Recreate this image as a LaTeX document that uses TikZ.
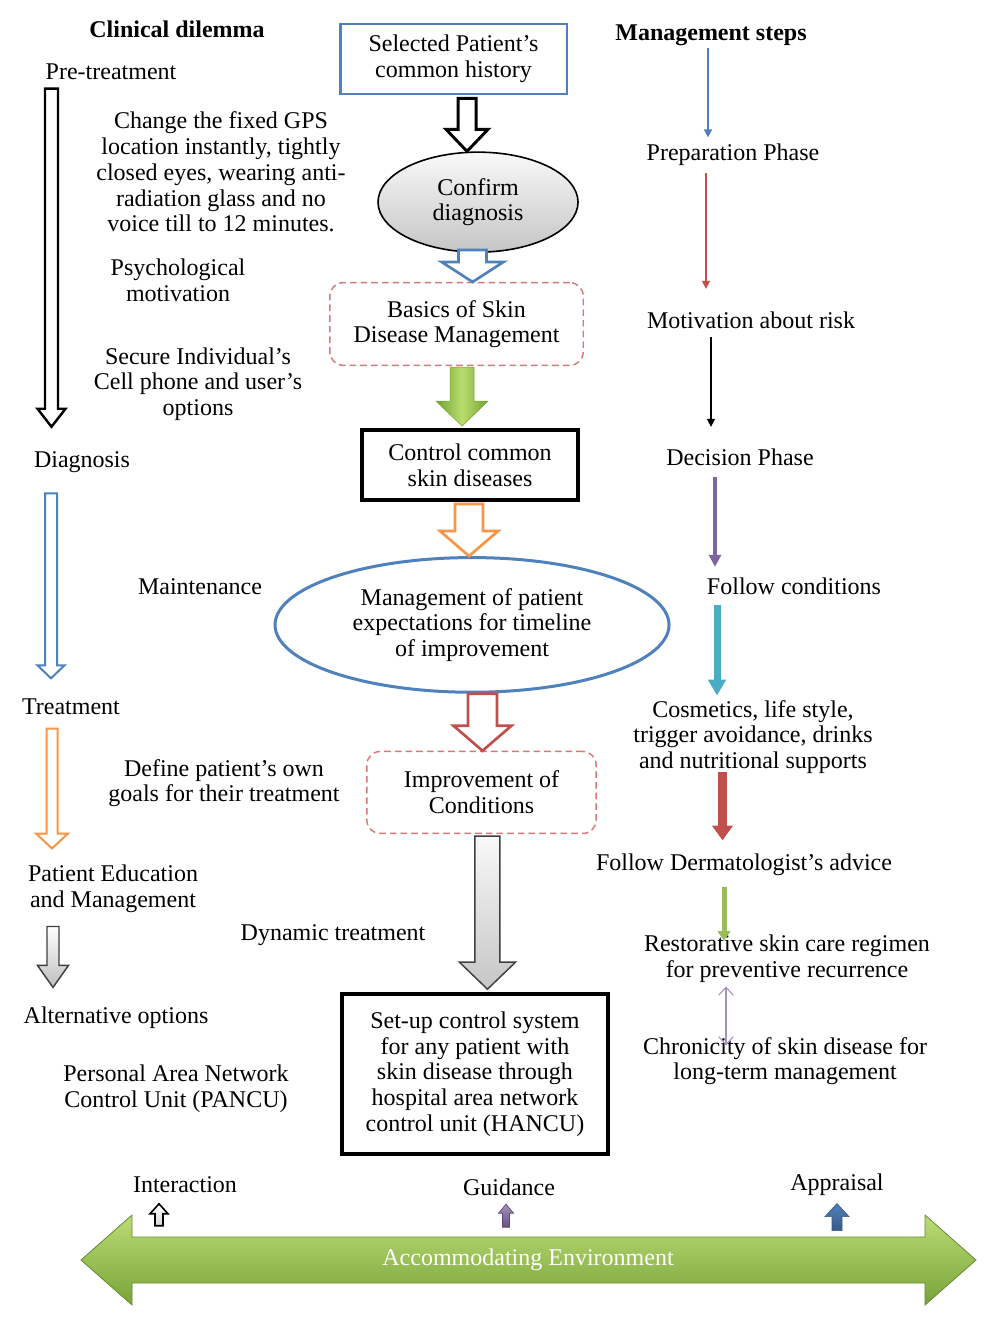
\documentclass[tikz,border=0pt]{standalone}
\usepackage{fontspec}
\setmainfont{Liberation Serif}
\usepackage{tikz}
\usetikzlibrary{arrows.meta,%
                shapes,positioning}
\usetikzlibrary{calc}

\definecolor{boxblue}{HTML}{4F81BD}
\definecolor{dashred}{HTML}{D7797B}
\definecolor{arrred}{HTML}{C0504D}
\definecolor{arrorange}{HTML}{F79646}
\definecolor{arrpurple}{HTML}{8064A2}
\definecolor{arrcyan}{HTML}{4BACC6}
\definecolor{arrgreen}{HTML}{9BBB59}
\definecolor{leafdark}{HTML}{72A332}
\definecolor{leaflight}{HTML}{B9DD6E}
\definecolor{envlight}{HTML}{BBDC76}
\definecolor{envdark}{HTML}{78A338}

% block arrow: [style]{shaft start}{tip}{shaft half width}{head half width}{head length}
\newcommand{\blockarrow}[6][]{%
  \draw[#1] let \p1=(#2), \p2=(#3) in
    ({\x2-#4*0.75},\y1) -- ({\x2-#4*0.75},{\y2+(#6)*0.75}) -- ({\x2-#5*0.75},{\y2+(#6)*0.75})
    -- (\x2,\y2) -- ({\x2+#5*0.75},{\y2+(#6)*0.75}) -- ({\x2+#4*0.75},{\y2+(#6)*0.75})
    -- ({\x2+#4*0.75},\y1) -- cycle;}

\begin{document}
\begin{tikzpicture}[x=0.75pt,y=-0.75pt,font=\fontsize{18}{19.3}\selectfont]
  \tikzset{TextStyle/.style = {align=center, text=black}}
  \tikzset{HeadStyle/.style = {align=center, text=black, font=\fontsize{18}{19.3}\selectfont\bfseries}}
  \tikzset{BoxStyle/.style = {draw=boxblue, line width=2pt, shape=rectangle, align=center, minimum width=170pt, minimum height=52.5pt}}
  \tikzset{ThickBoxStyle/.style = {draw=black, line width=3pt, shape=rectangle, align=center}}
  \tikzset{DashBoxStyle/.style = {draw=dashred, line width=1.1pt, dash pattern=on 5pt off 3pt, rounded corners=10pt, shape=rectangle, align=center}}
  \tikzset{OvalStyle/.style = {shape=ellipse, align=center}}
  \tikzset{ThinEdgeStyle/.style = {line width=1.1pt, -{Triangle[length=6pt,width=6pt]}}}
  \tikzset{HollowStyle/.style = {fill=white, line width=1.8pt, line join=miter}}

  \useasboundingbox (0,0) rectangle (996,1329);
  \fill[white] (0,0) rectangle (996,1329);

  % centre column
  \node(sel)[BoxStyle] at (453.5,59) {Selected Patient's\\common history};
  \node(cdx)[OvalStyle, draw=black, line width=1.2pt, top color=gray!5, bottom color=gray!45,
        minimum width=150pt, minimum height=75pt, below=42pt of sel, xshift=18.4pt] {Confirm\\diagnosis};
  \node(basics)[DashBoxStyle, minimum width=190pt, minimum height=62pt, below=21.75pt of cdx, xshift=-16.1pt] {Basics of Skin\\Disease Management};
  \node(ctrl)[ThickBoxStyle, minimum width=162pt, minimum height=52.5pt, below=46.5pt of basics, xshift=10.1pt] {Control common\\skin diseases};
  \node(mgmt)[OvalStyle, draw=boxblue, line width=2.25pt, minimum width=295.5pt, minimum height=101pt,
        below=40.5pt of ctrl, xshift=1.5pt] {Management of patient\\expectations for timeline\\of improvement};
  \node(impr)[DashBoxStyle, minimum width=172pt, minimum height=61.5pt, below=42.75pt of mgmt, xshift=7.1pt] {Improvement of\\Conditions};
  \node(hancu)[ThickBoxStyle, minimum width=199.5pt, minimum height=120pt, below=118.5pt of impr, xshift=-4.9pt]
        {Set-up control system\\for any patient with\\skin disease through\\hospital area network\\control unit (HANCU)};

  \blockarrow[HollowStyle, draw=black, line width=2.2pt]{$(sel.south)+(0,3)$}{$(cdx.north)+(-11,0)$}{9}{21}{22}
  \blockarrow[HollowStyle, draw=boxblue, line width=2pt]{$(cdx.south)+(0,-3)$}{$(basics.north)+(16,0)$}{14}{31}{20}
  \blockarrow[draw=leafdark, line width=0.4pt, left color=leafdark, right color=leafdark, middle color=leaflight]
        {$(basics.south)+(0,1)$}{$(ctrl.north)+(-8,-2)$}{12}{26}{25}
  \blockarrow[HollowStyle, draw=arrorange, line width=2pt]{$(ctrl.south)+(0,2)$}{$(mgmt.north)+(-3,0)$}{14}{29}{25}
  \blockarrow[HollowStyle, draw=arrred, line width=2pt]{$(mgmt.south)+(0,0)$}{$(impr.north)+(1,0)$}{14.5}{29}{25}
  \blockarrow[draw=black!75, line width=1.1pt, top color=gray!5, bottom color=gray!45]{$(impr.south)+(0,2)$}{$(hancu.north)+(12.5,-3)$}{12.5}{28}{27}

  % left column
  \node(cdil)[HeadStyle] at (177,29) {Clinical dilemma};
  \node(pre)[TextStyle] at (111,72) {Pre-treatment};
  \node(gps)[TextStyle] at (221,172) {Change the fixed GPS\\location instantly, tightly\\closed eyes, wearing anti-\\radiation glass and no\\voice till to 12 minutes.};
  \node(psy)[TextStyle] at (178,280) {Psychological\\motivation};
  \node(secure)[TextStyle] at (198,384) {Secure Individual's\\Cell phone and user's\\options};
  \node(diag)[TextStyle] at (82,462) {Diagnosis};
  \node(maint)[TextStyle] at (200,587) {Maintenance};
  \node(treat)[TextStyle] at (71,707) {Treatment};
  \node(goals)[TextStyle] at (224,783) {Define patient's own\\goals for their treatment};
  \node(pated)[TextStyle] at (113,889) {Patient Education\\and Management};
  \node(dyn)[TextStyle] at (333,935) {Dynamic treatment};
  \node(alt)[TextStyle] at (116,1018) {Alternative options};
  \node(pancu)[TextStyle] at (176,1089) {Personal Area Network\\Control Unit (PANCU)};

  \blockarrow[HollowStyle, draw=black]{$(pre.south)+(0,4)$}{$(diag.north)+(-30.5,-20)$}{6.5}{14}{18}
  \blockarrow[HollowStyle, draw=boxblue, line width=1.5pt]{$(diag.south)+(0,16)$}{$(treat.north)+(-20,-16)$}{6}{13.5}{13}
  \blockarrow[HollowStyle, draw=arrorange, line width=1.5pt]{$(treat.south)+(0,9)$}{$(pated.north)+(-61,-12)$}{5.5}{16}{15}
  \blockarrow[draw=black!75, line width=1.1pt, top color=white, bottom color=gray!50]{$(pated.south)+(0,9)$}{$(alt.north)+(-63,-15)$}{6}{15.5}{22}

  % right column
  \node(mst)[HeadStyle] at (711,35) {Management steps};
  \node(prep)[TextStyle] at (733,155) {Preparation Phase};
  \node(motiv)[TextStyle] at (751,320) {Motivation about risk};
  \node(dec)[TextStyle] at (740,457) {Decision Phase};
  \node(foll)[TextStyle] at (794,586) {Follow conditions};
  \node(cosm)[TextStyle] at (753,737) {Cosmetics, life style,\\trigger avoidance, drinks\\and nutritional supports};
  \node(derm)[TextStyle] at (744,865) {Follow Dermatologist's advice};
  \node(rest)[TextStyle] at (787,959) {Restorative skin care regimen\\for preventive recurrence};
  \node(chron)[TextStyle] at (785,1061) {Chronicity of skin disease for\\long-term management};

  \draw[ThinEdgeStyle, draw=boxblue] ($(mst.south)+(-3,-2)$) -- ($(prep.north)+(-25,-2)$);
  \draw[ThinEdgeStyle, draw=arrred] ($(prep.south)+(-27,2)$) -- ($(motiv.north)+(-45,-18)$);
  \draw[ThinEdgeStyle, draw=black] ($(motiv.south)+(-40,4)$) -- ($(dec.north)+(-29,-17)$);
  \draw[draw=arrpurple, line width=3pt, -{Triangle[length=9pt,width=9pt]}] ($(dec.south)+(-25,7)$) -- ($(foll.north)+(-79,-6)$);
  \draw[draw=arrcyan, line width=5.25pt, -{Triangle[length=12pt,width=13pt]}] ($(foll.south)+(-77,6)$) -- ($(cosm.north)+(-36,0)$);
  \draw[draw=arrred, line width=6.5pt, -{Triangle[length=11pt,width=15pt]}] ($(cosm.south)+(-30.5,-6.5)$) -- ($(derm.north)+(-21.5,-9)$);
  \draw[draw=arrgreen, line width=3.75pt, -{Triangle[length=7pt,width=9.5pt]}] ($(derm.south)+(-20,6)$) -- ($(rest.north)+(-63,10)$);
  \draw[draw=arrpurple!70, line width=0.8pt, {Straight Barb[length=6pt,width=11pt]}-{Straight Barb[length=6pt,width=11pt]}]
        ($(rest.south)+(-61,-1)$) -- ($(chron.north)+(-59,13)$);

  % bottom
  \draw[draw=envdark!85!black, line width=0.6pt, top color=envlight, bottom color=envdark]
    (81,1260) -- (132,1215) -- (132,1237) -- (925,1237) -- (925,1215) -- (976,1260)
    -- (925,1305) -- (925,1283) -- (132,1283) -- (132,1305) -- cycle;
  \node(env)[TextStyle, text=white] at (528,1260) {Accommodating Environment};

  \node(inter)[TextStyle] at (185,1185) {Interaction};
  \node(guid)[TextStyle] at (509,1187) {Guidance};
  \node(appr)[TextStyle] at (837,1185) {Appraisal};

  \blockarrow[draw=black, line width=1.2pt, top color=white, bottom color=gray!30]{$(inter.south)+(-26,28)$}{$(inter.south)+(-26,6)$}{4}{9}{-10}
  \blockarrow[draw=arrpurple!70!black, line width=0.5pt, top color=arrpurple!70, bottom color=arrpurple!80!black]{$(guid.south)+(-3,27)$}{$(guid.south)+(-3,4)$}{3.5}{7.5}{-9}
  \blockarrow[draw=boxblue!70!black, line width=0.5pt, top color=boxblue, bottom color=boxblue!70!black]{$(appr.south)+(0,30)$}{$(appr.south)+(0,3)$}{5}{12}{-13}

\end{tikzpicture}
\end{document}
